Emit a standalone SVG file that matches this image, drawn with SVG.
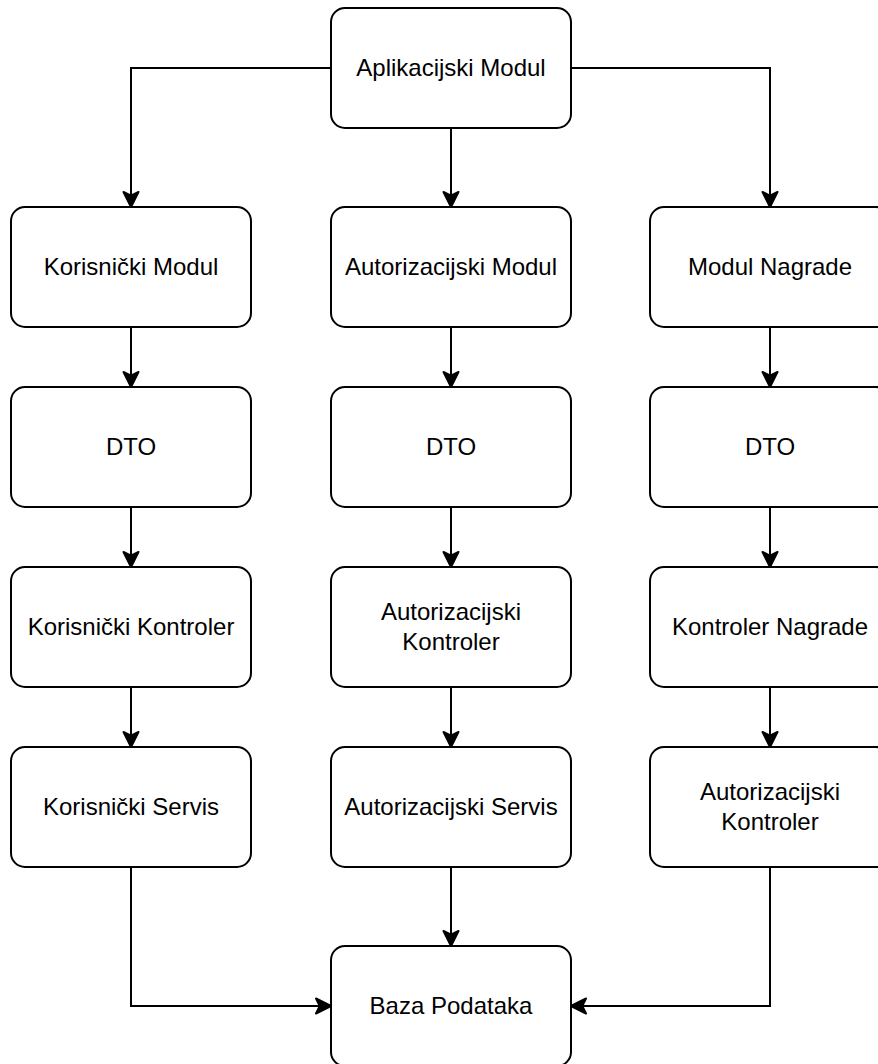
<svg xmlns="http://www.w3.org/2000/svg" width="878" height="1064" viewBox="0 0 878 1064">
<style>
.node rect{fill:#ffffff;stroke:#000000;stroke-width:2}
.node text{font-family:"Liberation Sans",Arial,sans-serif;font-size:24px;fill:#000000;text-anchor:middle}
.edge{fill:none;stroke:#000000;stroke-width:2}
</style>
<defs>
<marker id="arr" viewBox="-18 -10 20 20" markerWidth="20" markerHeight="20" refX="0" refY="0" orient="auto" markerUnits="userSpaceOnUse">
<path d="M0,0 L-15,-7.5 L-11.25,0 L-15,7.5 Z" fill="#000000" stroke="#000000" stroke-width="2" stroke-linejoin="round"/>
</marker>
</defs>
<rect x="0" y="0" width="878" height="1064" fill="#ffffff"/>
<g id="connectors">
<path class="edge" d="M331,68 L131,68 L131,207" marker-end="url(#arr)"/>
<path class="edge" d="M451,128 L451,207" marker-end="url(#arr)"/>
<path class="edge" d="M571,68 L770,68 L770,207" marker-end="url(#arr)"/>
<path class="edge" d="M131,327 L131,387" marker-end="url(#arr)"/>
<path class="edge" d="M451,327 L451,387" marker-end="url(#arr)"/>
<path class="edge" d="M770,327 L770,387" marker-end="url(#arr)"/>
<path class="edge" d="M131,507 L131,567" marker-end="url(#arr)"/>
<path class="edge" d="M451,507 L451,567" marker-end="url(#arr)"/>
<path class="edge" d="M770,507 L770,567" marker-end="url(#arr)"/>
<path class="edge" d="M131,687 L131,747" marker-end="url(#arr)"/>
<path class="edge" d="M451,687 L451,747" marker-end="url(#arr)"/>
<path class="edge" d="M770,687 L770,747" marker-end="url(#arr)"/>
<path class="edge" d="M131,867 L131,1006 L331,1006" marker-end="url(#arr)"/>
<path class="edge" d="M451,867 L451,946" marker-end="url(#arr)"/>
<path class="edge" d="M770,867 L770,1006 L571,1006" marker-end="url(#arr)"/>
</g>
<g id="aplikacijski-modul" class="node"><rect x="331" y="8" width="240" height="120" rx="14"/><text x="451" y="76">Aplikacijski Modul</text></g>
<g id="korisnicki-modul" class="node"><rect x="11" y="207" width="240" height="120" rx="14"/><text x="131" y="275">Korisnički Modul</text></g>
<g id="autorizacijski-modul" class="node"><rect x="331" y="207" width="240" height="120" rx="14"/><text x="451" y="275">Autorizacijski Modul</text></g>
<g id="modul-nagrade" class="node"><rect x="650" y="207" width="240" height="120" rx="14"/><text x="770" y="275">Modul Nagrade</text></g>
<g id="dto-1" class="node"><rect x="11" y="387" width="240" height="120" rx="14"/><text x="131" y="455">DTO</text></g>
<g id="dto-2" class="node"><rect x="331" y="387" width="240" height="120" rx="14"/><text x="451" y="455">DTO</text></g>
<g id="dto-3" class="node"><rect x="650" y="387" width="240" height="120" rx="14"/><text x="770" y="455">DTO</text></g>
<g id="korisnicki-kontroler" class="node"><rect x="11" y="567" width="240" height="120" rx="14"/><text x="131" y="635">Korisnički Kontroler</text></g>
<g id="autorizacijski-kontroler" class="node"><rect x="331" y="567" width="240" height="120" rx="14"/><text x="451" y="620">Autorizacijski</text><text x="451" y="650">Kontroler</text></g>
<g id="kontroler-nagrade" class="node"><rect x="650" y="567" width="240" height="120" rx="14"/><text x="770" y="635">Kontroler Nagrade</text></g>
<g id="korisnicki-servis" class="node"><rect x="11" y="747" width="240" height="120" rx="14"/><text x="131" y="815">Korisnički Servis</text></g>
<g id="autorizacijski-servis" class="node"><rect x="331" y="747" width="240" height="120" rx="14"/><text x="451" y="815">Autorizacijski Servis</text></g>
<g id="autorizacijski-kontroler-2" class="node"><rect x="650" y="747" width="240" height="120" rx="14"/><text x="770" y="800">Autorizacijski</text><text x="770" y="830">Kontroler</text></g>
<g id="baza-podataka" class="node"><rect x="331" y="946" width="240" height="120" rx="14"/><text x="451" y="1014">Baza Podataka</text></g>
</svg>
